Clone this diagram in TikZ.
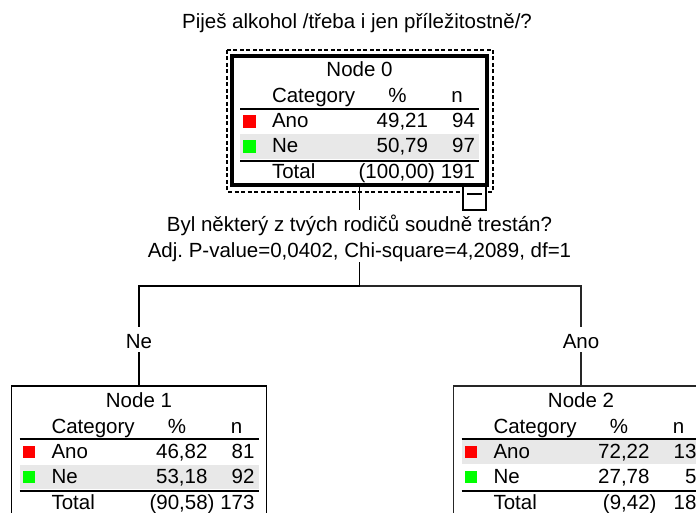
\documentclass[tikz,border=0pt]{standalone}
\usepackage{fontspec}
\setmainfont{Liberation Sans}
\frenchspacing
\newcommand\dfont{\fontsize{20.5}{25}\selectfont}
\definecolor{rowshade}{HTML}{E8E8E8}
\definecolor{catred}{HTML}{FF0000}
\definecolor{catgreen}{HTML}{00FF00}
\tikzset{
  txt/.style={font=\dfont, inner sep=0pt, outer sep=0pt, text=black},
  tbox/.style={draw, anchor=north west, minimum width=255pt, minimum height=129pt, inner sep=0pt, outer sep=0pt},
  conn/.style={line width=1.8pt},
  tabrule/.style={line width=1.4pt},
}
% #1 name, #2 title, #3 ano pct, #4 ano n, #5 ne pct, #6 ne n, #7 total pct, #8 total n, #9 shade top
\newcommand\cattable[9]{%
  \fill[rowshade] (8,#9) rectangle (247,#9+24.5);
  \node[txt,anchor=base] (#1t) at (127.5,21) {#2};
  \node[txt,anchor=base west] (#1hc) at (40,47) {Category};
  \node[txt,anchor=base] (#1hp) at (165.5,47) {\%};
  \node[txt,anchor=base] (#1hn) at (225,47) {n};
  \draw[tabrule] (8,53) -- (247,53);
  \fill[catred] (11,59.5) rectangle (23.5,72);
  \node[txt,anchor=base west] (#1ac) at (40,72) {Ano};
  \node[txt,anchor=base east] (#1ap) at (196,72) {#3};
  \node[txt,anchor=base east] (#1an) at (243,72) {#4};
  \fill[catgreen] (11,84.5) rectangle (23.5,97);
  \node[txt,anchor=base west] (#1nc) at (40,97) {Ne};
  \node[txt,anchor=base east] (#1np) at (196,97) {#5};
  \node[txt,anchor=base east] (#1nn) at (243,97) {#6};
  \draw[tabrule] (8,105) -- (247,105);
  \node[txt,anchor=base west] (#1tc) at (40,123) {Total};
  \node[txt,anchor=base east] (#1tp) at (203,123) {#7};
  \node[txt,anchor=base east] (#1tn) at (243,123) {#8};
}
\begin{document}
\begin{tikzpicture}[x=1pt,y=-1pt]
\useasboundingbox (0,0) rectangle (696,513);
\clip (0,0) rectangle (696,513);
\fill[white] (0,0) rectangle (696,513);

% title
\node[txt,anchor=base] (title) at (357,29) {Piješ alkohol /třeba i jen příležitostně/?};

% selection frame of node 0
\draw[line width=1.3pt, dash pattern=on 4pt off 2.5pt] (227,50) rectangle (493,192);
\node[draw, fill=white, line width=1.3pt, minimum width=23pt, minimum height=25pt,
      anchor=north east, inner sep=0pt, outer sep=0pt] (collapse) at (486,185)
      {\rule[6.5pt]{15pt}{2pt}};

% node 0
\begin{scope}[shift={(232,56)}]
  \cattable{n0}{Node 0}{49,21}{94}{50,79}{97}{(100,00)}{191}{78.5}
  \node[tbox, line width=3.5pt] (n0) at (0,0) {};
\end{scope}

% split text
\node[txt,anchor=base, text height=22pt, text depth=0pt] (splitA) at (359.5,232)
  {Byl některý z tvých rodičů soudně trestán?};
\node[txt,anchor=base, text height=15pt, text depth=5pt] (splitB) at (359.5,257)
  {Adj. P-value=0,0402, Chi-square=4,2089, df=1};

% branch labels
\node[txt,anchor=base, text height=21pt, text depth=4pt] (lblNe) at (139,348) {Ne};
\node[txt,anchor=base, text height=21pt, text depth=4pt] (lblAno) at (581,348) {Ano};

% node 1
\begin{scope}[shift={(11.5,386)}]
  \cattable{n1}{Node 1}{46,82}{81}{53,18}{92}{(90,58)}{173}{78.5}
  \node[tbox, line width=1.8pt] (n1) at (0,0) {};
\end{scope}

% node 2
\begin{scope}[shift={(453.5,386)}]
  \cattable{n2}{Node 2}{72,22}{13}{27,78}{5}{(9,42)}{18}{53.7}
  \node[tbox, line width=1.8pt, draw=black!85] (n2) at (0,0) {};
\end{scope}

% connectors
\coordinate (fork) at (359.5,286);
\draw[conn] (n0.south) -- (splitA.north);
\draw[conn] (splitB.south) -- (fork);
\draw[conn] (fork) -| (lblNe.north);
\draw[conn, black!85] (fork) -| (lblAno.north);
\draw[conn] (lblNe.south) -- (n1.north);
\draw[conn, black!85] (lblAno.south) -- (n2.north);
\end{tikzpicture}
\end{document}
